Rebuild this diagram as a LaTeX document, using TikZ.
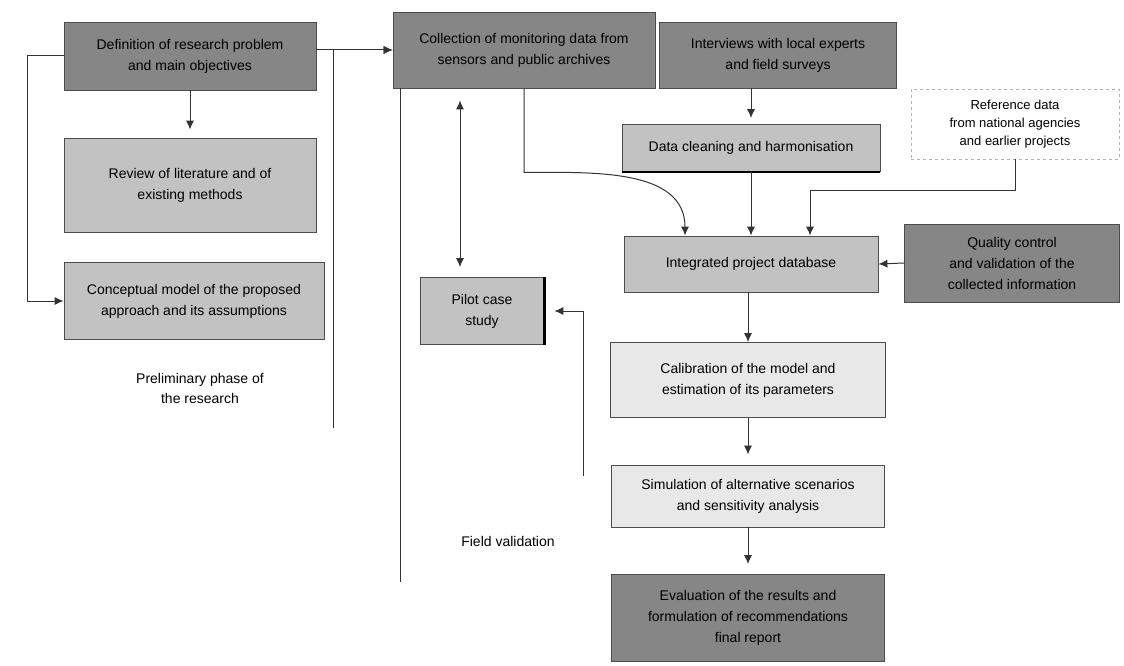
\documentclass[tikz,border=0pt]{standalone}
\usepackage{fontspec}
\setmainfont{Liberation Sans}
\usetikzlibrary{arrows.meta}
\tikzset{
  box/.style={draw=gray!60!black, line width=0.8pt, align=center, inner sep=3pt,
    font=\fontsize{14}{21}\selectfont},
  darkbox/.style={box, fill=gray!95},
  lightbox/.style={box, fill=gray!48},
  palebox/.style={box, fill=gray!18},
  refbox/.style={box, draw=gray!60, dashed, fill=white, font=\fontsize{13}{18}\selectfont},
  note/.style={align=center, font=\fontsize{14}{20}\selectfont},
  link/.style={line width=1pt, draw=black!80},
  arr/.style={link, -{Latex[length=9pt,width=8pt]}},
}
\begin{document}
\begin{tikzpicture}[x=1pt,y=-1pt]
\useasboundingbox (0,0) rectangle (1124,666);
% left column
\node[darkbox, minimum width=252pt, minimum height=68pt] (plan) at (190,56) {Definition of research problem\\and main objectives};
\node[lightbox, minimum width=252pt, minimum height=94pt] (review) at (190,185) {Review of literature and of\\existing methods};
\node[lightbox, minimum width=260pt, minimum height=77pt] (concept) at (194,301) {Conceptual model of the proposed\\approach and its assumptions};
\node[note] (phase) at (200,388) {Preliminary phase of\\the research};
% top row
\node[darkbox, minimum width=262pt, minimum height=76pt] (acq) at (524,50) {Collection of monitoring data from\\sensors and public archives};
\node[darkbox, minimum width=237pt, minimum height=66pt] (survey) at (778,55) {Interviews with local experts\\and field surveys};
\node[refbox, minimum width=208pt, minimum height=70pt] (ref) at (1015,124) {Reference data\\from national agencies\\and earlier projects};
% middle
\node[lightbox, minimum width=258pt, minimum height=47pt] (clean) at (751,148) {Data cleaning and harmonisation};
\node[lightbox, minimum width=254pt, minimum height=56pt] (db) at (751,264) {Integrated project database};
\node[darkbox, minimum width=215pt, minimum height=78pt] (qc) at (1012,263) {Quality control\\and validation of the\\collected information};
\node[lightbox, minimum width=124pt, minimum height=67pt] (pilot) at (482,311) {Pilot case\\study};
\node[note] (field) at (508,541) {Field validation};
% lower column
\node[palebox, minimum width=275pt, minimum height=75pt] (calib) at (748,380) {Calibration of the model and\\estimation of its parameters};
\node[palebox, minimum width=273pt, minimum height=62pt] (sim) at (748,496) {Simulation of alternative scenarios\\and sensitivity analysis};
\node[darkbox, minimum width=273pt, minimum height=87pt] (final) at (748,618) {Evaluation of the results and\\formulation of recommendations\\final report};
% heavy edges
\draw[line width=2.5pt] (clean.south west) -- (clean.south east);
\draw[line width=2.5pt] (pilot.north east) -- (pilot.south east);
% free ends
\coordinate (loopEnd) at (333,428);
\coordinate (leftEnd) at (400,582);
\coordinate (sideEnd) at (583,476);
\coordinate (refBend) at (810,190);
% connectors
\draw[arr] (plan.west) -- ++(-36,0) |- (concept.west);
\draw[arr, shorten >=8pt] (plan.south) -- (review.north);
\draw[arr] (plan.east |- acq.west) -- (acq.west);
\draw[arr] (loopEnd) |- (acq.west);
\draw[link] (leftEnd) -- (leftEnd |- acq.south);
\draw[{Latex[length=9pt,width=8pt]}-{Latex[length=9pt,width=8pt]}, link, shorten <=10pt, shorten >=12pt] ([xshift=-22pt]pilot.north) -- ([xshift=-22pt]pilot.north |- acq.south);
\draw[arr] (acq.south) -- ++(0,84) to[out=0,in=90] ([xshift=-66pt]db.north);
\draw[arr, shorten >=6pt] (survey.south -| clean.north) -- (clean.north);
\draw[arr] (clean.south) -- (db.north);
\draw[arr] (ref.south) |- (refBend) -- (refBend |- db.north);
\draw[arr] (qc.west) -- (db.east);
\draw[arr, shorten >=10pt] (sideEnd) |- (pilot.east);
\draw[arr] (db.south -| calib.north) -- (calib.north);
\draw[arr, shorten >=10pt] (calib.south) -- (sim.north);
\draw[arr, shorten >=10pt] (sim.south) -- (final.north);
\end{tikzpicture}
\end{document}
